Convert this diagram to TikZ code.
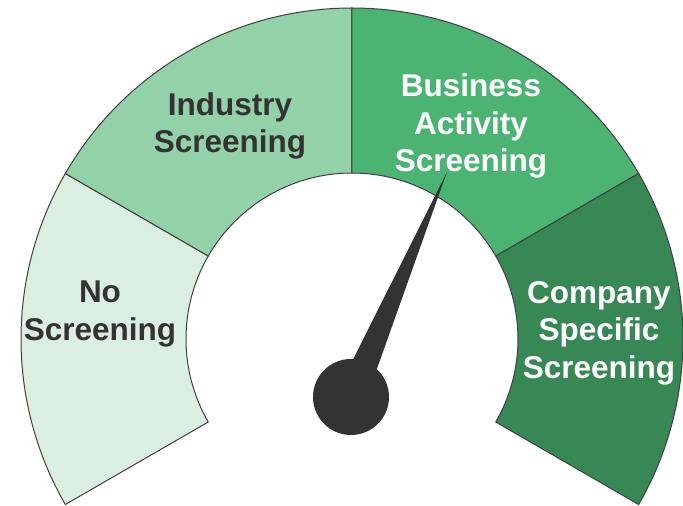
\documentclass[tikz,border=0pt]{standalone}
\usepackage{fontspec}
\setmainfont{Liberation Sans}
\usetikzlibrary{calc}

\definecolor{segnone}{HTML}{DAEFE2}
\definecolor{segind}{HTML}{93D2A9}
\definecolor{segact}{HTML}{4CB472}
\definecolor{segcomp}{HTML}{378855}
\definecolor{needlegray}{HTML}{333333}

\begin{document}
\begin{tikzpicture}[x=1pt,y=1pt,
  seg/.style={draw=black!75, line width=1pt},
  lbl/.style={font=\fontsize{31.5pt}{37.5pt}\selectfont\bfseries, align=center, inner sep=0pt}]
\useasboundingbox (-352,-167) rectangle (331,339);

% dial, centre at the origin
\filldraw[seg, fill=segnone] (210:166) -- (210:331) arc[start angle=210, end angle=150, radius=331pt] -- (150:166) arc[start angle=150, end angle=210, radius=166pt] -- cycle;
\filldraw[seg, fill=segind] (150:166) -- (150:331) arc[start angle=150, end angle=90, radius=331pt] -- (90:166) arc[start angle=90, end angle=150, radius=166pt] -- cycle;
\filldraw[seg, fill=segact] (90:166) -- (90:331) arc[start angle=90, end angle=30, radius=331pt] -- (30:166) arc[start angle=30, end angle=90, radius=166pt] -- cycle;
\filldraw[seg, fill=segcomp] (30:166) -- (30:331) arc[start angle=30, end angle=-30, radius=331pt] -- (-30:166) arc[start angle=-30, end angle=30, radius=166pt] -- cycle;

\node[lbl, text=needlegray] (none) at (-252,25) {No\\Screening};
\node[lbl, text=needlegray] (industry) at (-122,213) {Industry\\Screening};
\node[lbl, text=white] (activity) at (119,213) {Business\\Activity\\Screening};
\node[lbl, text=white] (company) at (247,6) {Company\\Specific\\Screening};

% needle
\coordinate (hub) at (-1,-58);
\coordinate (tip) at (95,167);
\fill[needlegray] (tip) -- ($(hub)!15pt!90:(tip)$) -- ($(hub)!15pt!-90:(tip)$) -- cycle;
\fill[needlegray] (hub) circle (38pt);
\end{tikzpicture}
\end{document}
